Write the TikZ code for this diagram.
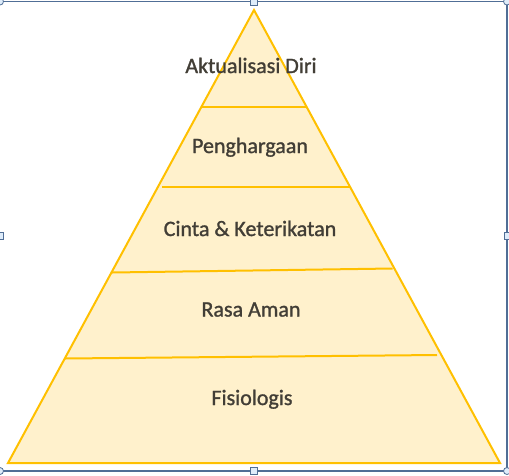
\documentclass[tikz,border=0pt]{standalone}
\usepackage{fontspec}
\setmainfont{Carlito}
\newfontfamily\levelfont{Carlito}[FakeBold=1.2]
\definecolor{pyrline}{RGB}{255,192,0}
\definecolor{pyrfill}{RGB}{255,241,204}
\definecolor{frameline}{RGB}{80,110,150}
\definecolor{handlefill}{RGB}{222,236,250}
\definecolor{labelgray}{RGB}{66,62,54}

\begin{document}
\begin{tikzpicture}[%
      x=1pt, y=-1pt,
      level/.style={font=\levelfont\fontsize{22}{26}\selectfont, text=labelgray, anchor=base},
      handle/.style={draw=frameline, fill=handlefill, line width=0.8pt},
      ]
      \useasboundingbox (0,0) rectangle (509,475);

      % selection frame
      \draw [color=frameline, line width=1.2pt] (0,1.5) -- (507,1.5) -- (507,471) -- (0,471);

      % pyramid
      \coordinate (top) at (254,10);
      \coordinate (baseL) at (8,463);
      \coordinate (baseR) at (500,463);
      \filldraw [fill=pyrfill, draw=pyrline, line width=2pt] (top) -- (baseR) -- (baseL) -- cycle;

      \draw [color=pyrline, line width=2pt] (201,106.5) -- (306,106.5);
      \draw [color=pyrline, line width=2pt] (162,187) -- (350,187);
      \draw [color=pyrline, line width=2pt] (112,272.5) -- (392.5,268.5);
      \draw [color=pyrline, line width=2pt] (65,358.5) -- (437,355);

      \node [level] (aktualisasi) at (251,73) {Aktualisasi Diri};
      \node [level] (penghargaan) at (250,153) {Penghargaan};
      \node [level] (cinta) at (250,236) {Cinta \& Keterikatan};
      \node [level] (aman) at (251,316.5) {Rasa Aman};
      \node [level] (fisiologis) at (252,405) {Fisiologis};

      % handles
      \filldraw [handle] (0,1.5) circle (3.5pt);
      \filldraw [handle] (507,1.5) circle (3.5pt);
      \filldraw [handle] (0,471) circle (3.5pt);
      \filldraw [handle] (507,471) circle (3.5pt);
      \filldraw [handle] (250.5,-2) rectangle (257.5,5);
      \filldraw [handle] (250.5,467.5) rectangle (257.5,474.5);
      \filldraw [handle] (-3,232.5) rectangle (3,239.5);
      \filldraw [handle] (504,232.5) rectangle (510,239.5);
      \end{tikzpicture}
\end{document}
